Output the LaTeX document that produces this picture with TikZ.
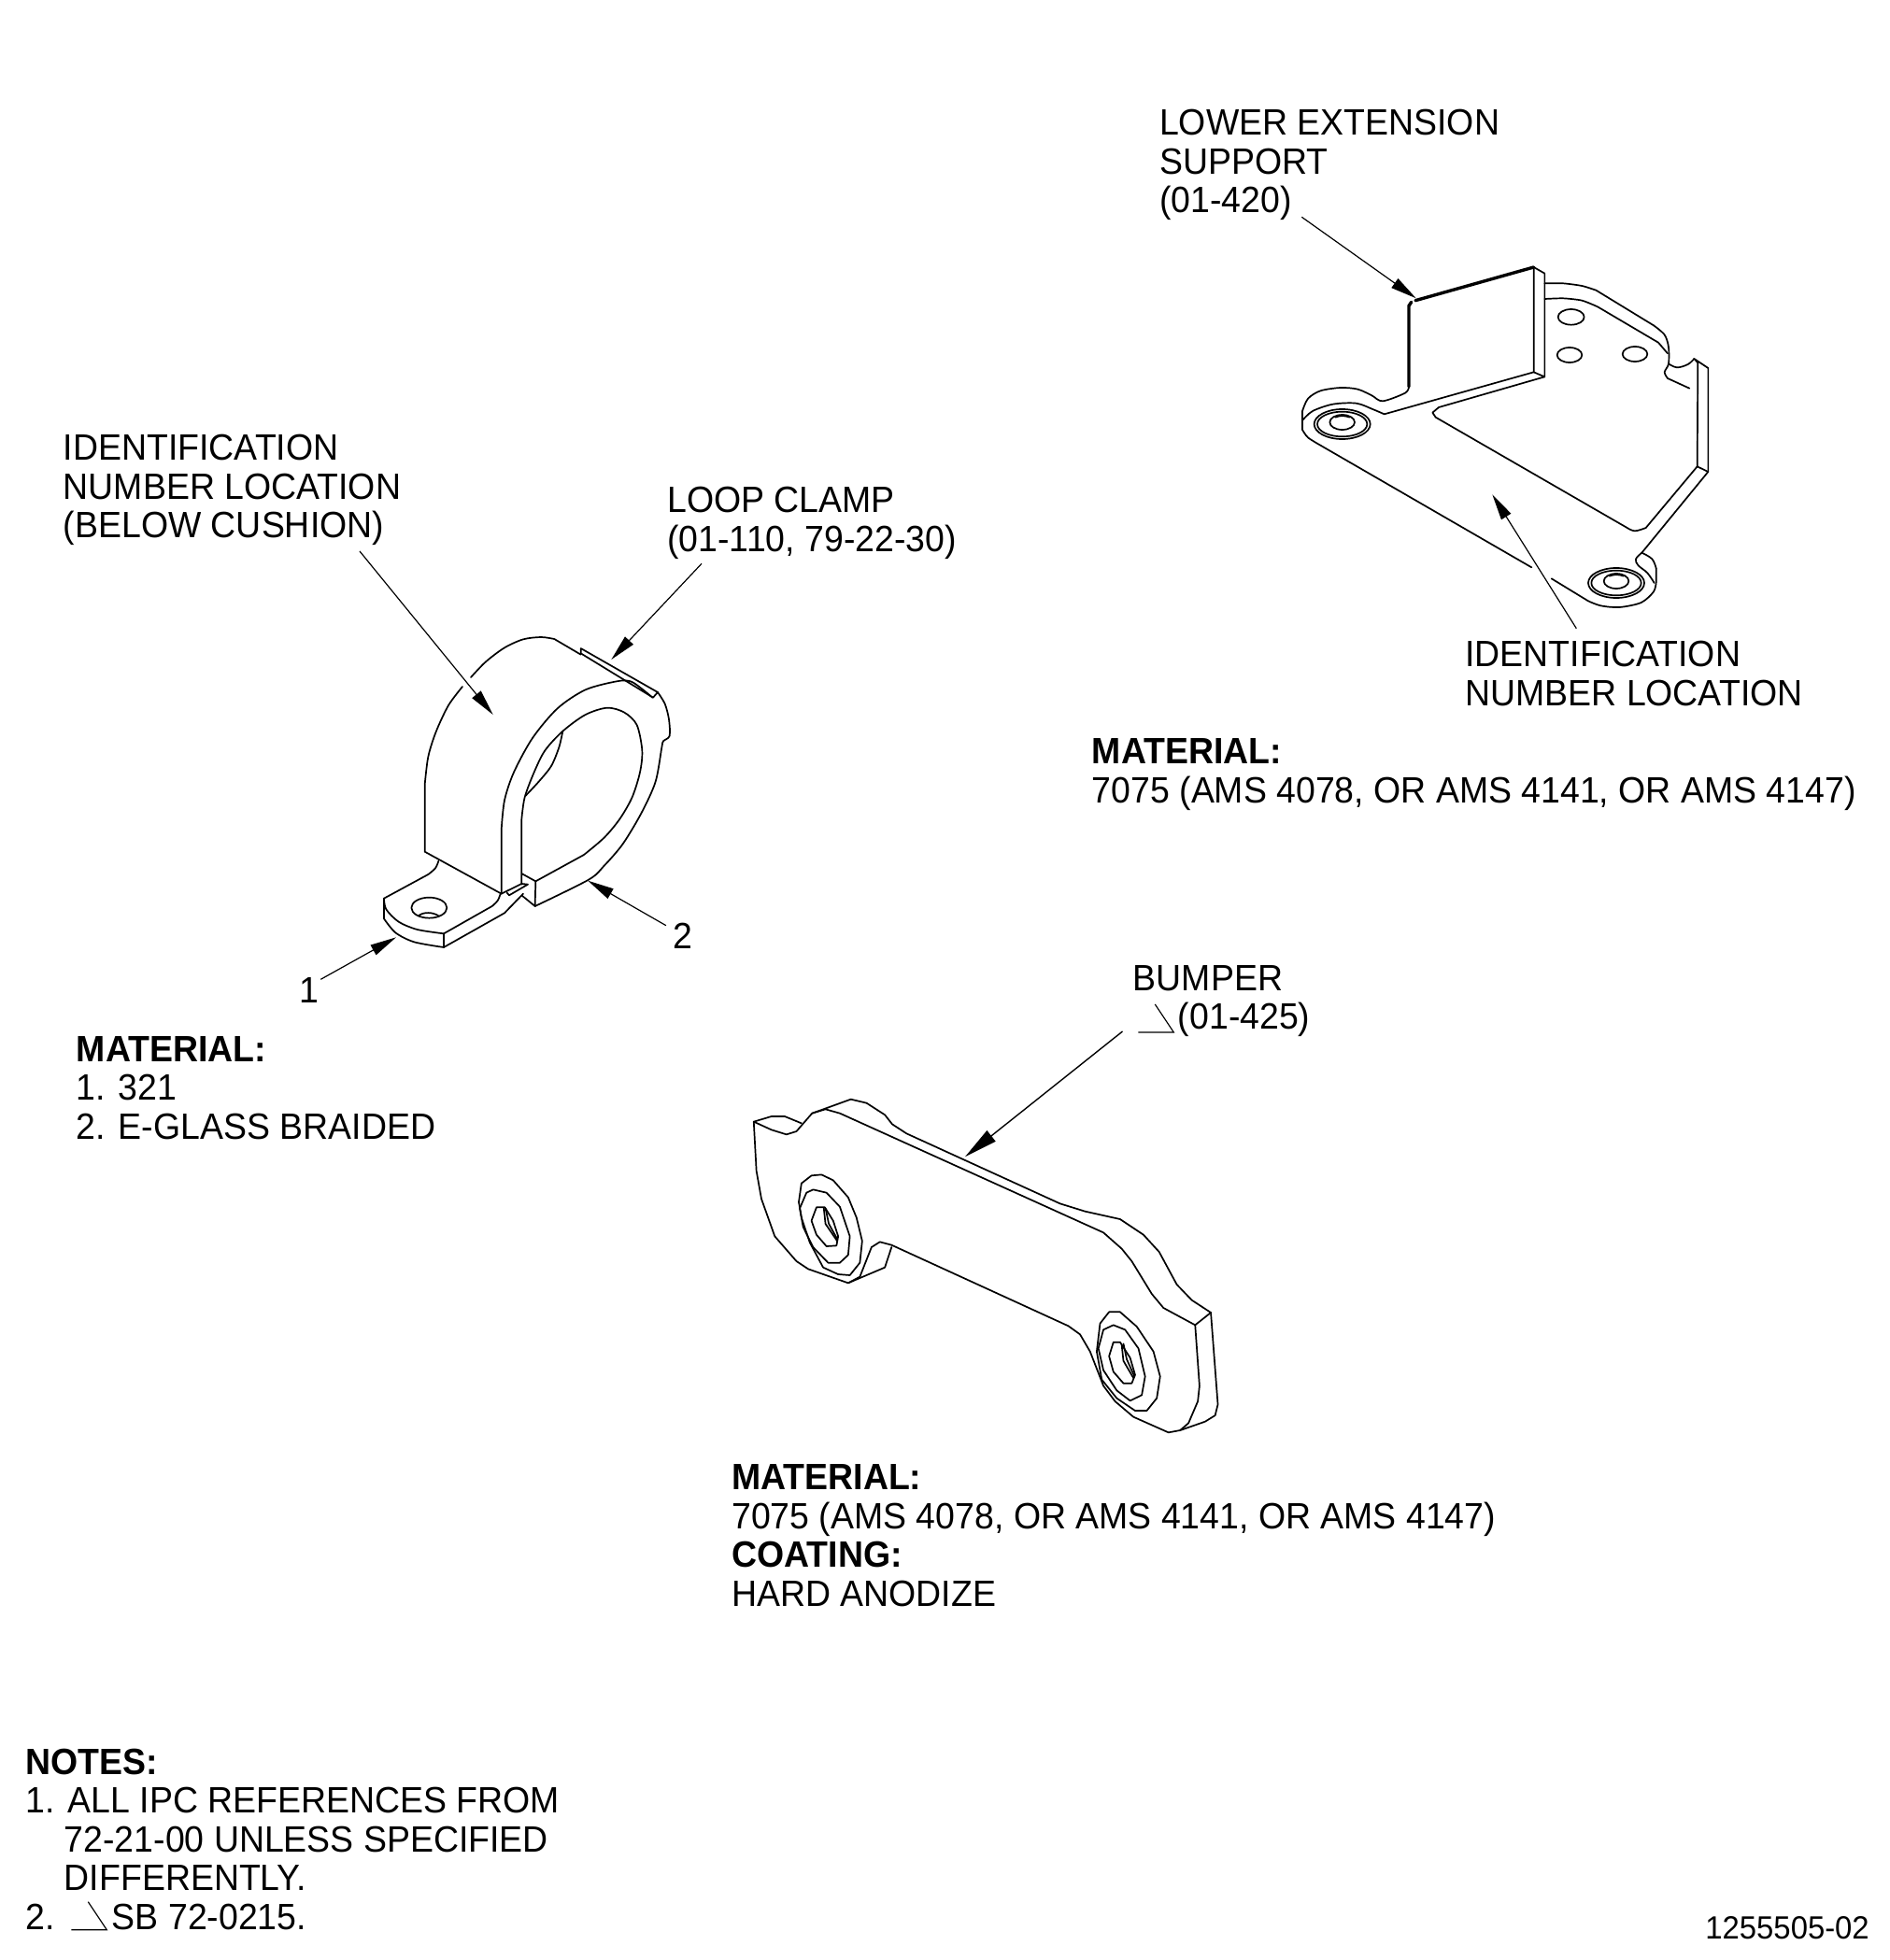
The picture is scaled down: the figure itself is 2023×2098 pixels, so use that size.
\documentclass[tikz,border=0pt]{standalone}
\usepackage{fontspec}
\setmainfont[FakeStretch=0.955]{Liberation Sans}
\usetikzlibrary{arrows.meta}
\tikzset{
	part/.style={line width=0.85pt, line join=round, line cap=round},
	heavy/.style={line width=1.7pt, line join=round, line cap=round},
	leader/.style={line width=0.6pt, -{Triangle[length=14pt,width=6pt]}},
	bigleader/.style={line width=0.7pt, -{Triangle[length=18pt,width=7.3pt]}},
	lbl/.style={anchor=base west, inner sep=0pt, align=left, font=\fontsize{19.6}{20.75}\selectfont},
	sbmark/.pic={\draw[line width=0.6pt] (0,0) -- (38,0) -- (18,-30);},
}
\begin{document}
\begin{tikzpicture}[x=0.5pt,y=-0.5pt]
\useasboundingbox (0,0) rectangle (2023,2098);

% lower extension support
\begin{scope}[shift={(1380,270)},scale=1/3]
	\draw[heavy] (405,155) -- (785,48);
	\draw[heavy] (392,160) -- (384,172) -- (384,432);
	\draw[part] plot[smooth,tension=.5] coordinates {(384,432) (372,452) (300,478) (265,460) (220,440) (165,435) (100,445) (60,470) (42,510)} -- (42,570);
	\draw[part] (785,48) -- (785,385) -- (305,520);
	\draw[part] (785,48) -- (820,68) -- (820,400) -- (785,385);
	\draw[part] plot[smooth,tension=.5] coordinates {(305,520) (270,505) (215,485) (140,488) (75,510) (42,540)};
	\draw[part] plot[smooth,tension=.5] coordinates {(42,570) (60,595) (100,620)} -- (778,1012);
	\draw[part] (842,1048) -- plot[smooth,tension=.5] coordinates {(960,1120) (1000,1135) (1060,1140) (1130,1125) (1170,1090) (1178,1060)} -- (1178,1015);
	\draw[part] plot[smooth,tension=.6] coordinates {(1178,1015) (1165,985) (1132,965)};
	\draw[part] plot[smooth,tension=.6] coordinates {(1132,965) (1113,985) (1120,1005) (1150,1030) (1172,1062)};
	\draw[part] (1132,965) -- (1345,705) -- (1310,688);
	\draw[part] (820,400) -- (480,498) -- (460,515) -- (470,530) -- (1085,885);
	\draw[part] plot[smooth,tension=.6] coordinates {(1085,885) (1110,895) (1145,885)} -- (1310,688) -- (1312,355) -- (1300,342) -- (1345,372) -- (1345,705);
	\draw[part] plot[smooth,tension=.6] coordinates {(1300,342) (1280,360) (1245,370) (1218,358)};
	\draw[part] plot[smooth,tension=.4] coordinates {(820,100) (880,100) (940,108) (985,122)} -- (1170,235);
	\draw[part] plot[smooth,tension=.5] coordinates {(1170,235) (1205,265) (1218,305) (1218,358) (1205,385) (1215,405)} -- (1285,437);
	\draw[part] plot[smooth,tension=.4] coordinates {(820,150) (880,148) (940,155) (990,175)} -- (1185,290) -- (1215,325);
	\foreach \hx/\hy/\hrx/\hry in {905/208/42/25,900/330/40/24,1110/327/40/24}{
		\draw[part] (\hx,\hy) ellipse [x radius=\hrx, y radius=\hry];
	}
	% the two bosses
	\foreach \bx/\by in {170/552,1050/1062}{
		\draw[part] (\bx,\by) ellipse (90 and 48);
		\draw[part] (\bx,\by) ellipse (80 and 40);
		\draw[part] (\bx,\by-6) ellipse (40 and 24);
		\draw[part] (\bx-22,\by-22) .. controls (\bx-8,\by-28) and (\bx+8,\by-28) .. (\bx+24,\by-22);
	}
\end{scope}

% loop clamp
\begin{scope}[shift={(380,640)},scale=1/3]
	\draw[part] plot[smooth,tension=.5] coordinates {(372,255) (420,205) (480,160) (540,133) (598,126) (640,132)} -- (725,182);
	\draw[part] plot[smooth,tension=.5] coordinates {(345,285) (300,345) (260,430) (235,510) (224,600)} -- (224,815) -- (470,950);
	\draw[part] (725,162) -- (972,303) -- (957,320) -- (725,178) -- cycle;
	\draw[part] (470,950) -- (470,745) -- plot[smooth,tension=.5] coordinates {(470,745) (480,650) (510,560) (570,450) (650,355) (740,295) (840,268) (885,268) (925,295) (955,320)};
	\draw[part] (535,920) -- plot[smooth,tension=.5] coordinates {(535,710) (545,640) (575,560) (610,490) (667,428) (740,375) (810,353) (865,368) (905,408) (922,490) (915,560) (890,640) (850,710) (800,770) (735,825)} -- (580,910) -- (535,885);
	\draw[part] plot[smooth,tension=.5] coordinates {(667,428) (655,480) (630,540) (590,590) (548,635)};
	\draw[part] (580,910) -- (578,990) -- (535,955);
	\draw[part] plot[smooth,tension=.5] coordinates {(578,990) (750,905) (800,860) (860,790) (920,690) (965,590) (985,480) (990,460) (1010,443) (1008,390) (995,340) (972,303)};
	% foot
	\draw[part] plot[smooth,tension=.6] coordinates {(268,845) (258,868) (235,888)} -- (93,965);
	\draw[part] plot[smooth,tension=.5] coordinates {(93,965) (100,1000) (140,1040) (200,1065) (285,1078)} -- (440,990);
	\draw[part] plot[smooth,tension=.6] coordinates {(440,990) (458,972) (467,950)};
	\draw[part] (93,965) -- plot[smooth,tension=.5] coordinates {(93,1030) (130,1075) (190,1105) (285,1122)} -- (480,1012) -- (540,950);
	\draw[part] (285,1078) -- (285,1122);
	\draw[part] (238,995) ellipse (57 and 33);
	\draw[part] (205,1020) .. controls (220,1008) and (250,1008) .. (270,1022);
	\draw[part] (470,950) -- (535,918) -- (555,920) -- (495,955) -- (488,947);
\end{scope}

% bumper
\begin{scope}[shift={(790,1160)},xscale=1/2.8,yscale=1/3]
	\draw[part] (47,122) -- (100,105) -- (140,105) -- (190,127);
	\draw[part] (47,122) -- (100,148) -- (145,163) -- (175,153) -- (200,122) -- (222,95) -- (262,82) -- (305,95) -- (1095,478) -- (1150,530) -- (1180,570) -- (1240,675) -- (1275,720) -- (1370,775) -- (1417,735);
	\draw[part] (222,95) -- (338,50) -- (385,62) -- (440,100) -- (462,130) -- (505,160) -- (965,385) -- (1040,410) -- (1145,435) -- (1215,485) -- (1262,540) -- (1315,645) -- (1360,695) -- (1417,735);
	\draw[part] (1370,775) -- (1383,970) -- (1378,1020) -- (1350,1090) -- (1325,1113);
	\draw[part] (1417,735) -- (1438,1030) -- (1430,1065) -- (1400,1085) -- (1325,1113) -- (1290,1120) -- (1185,1070) -- (1130,1020) -- (1095,970) -- (1055,860) -- (1025,805) -- (990,778) -- (460,518);
	\draw[part] (47,122) -- (55,280) -- (70,370) -- (110,490) -- (175,570) -- (210,595) -- (330,640) -- (440,590) -- (460,525);
	\draw[part] (330,640) -- (365,620) -- (400,525) -- (425,508) -- (460,518);
	% left boss
	\draw[part] (220,295) -- (250,292) -- (285,310) -- (330,365) -- (355,430) -- (372,505) -- (365,575) -- (335,615) -- (300,612) -- (255,590) -- (215,510) -- (190,430) -- (182,380) -- (190,320) -- cycle;
	\draw[part] (225,340) -- (265,350) -- (305,395) -- (335,490) -- (330,550) -- (305,575) -- (270,575) -- (225,525) -- (195,460) -- (185,400) -- (205,350) -- cycle;
	\draw[part] (235,397) -- (260,397) -- (285,440) -- (300,490) -- (295,520) -- (265,522) -- (235,485) -- (220,440) -- cycle;
	\draw[part] (257,400) -- (262,450) -- (297,505);
	\draw[part] (262,400) -- (272,450) -- (298,500);
	% right boss
	\draw[part] (1112,733) -- (1145,733) -- (1195,780) -- (1245,860) -- (1265,940) -- (1255,1010) -- (1225,1050) -- (1190,1050) -- (1135,1010) -- (1090,950) -- (1075,860) -- (1085,770) -- cycle;
	\draw[part] (1125,775) -- (1160,790) -- (1200,850) -- (1220,940) -- (1210,1000) -- (1175,1018) -- (1135,985) -- (1095,920) -- (1080,850) -- (1095,790) -- cycle;
	\draw[part] (1125,830) -- (1145,830) -- (1175,880) -- (1190,935) -- (1180,962) -- (1155,962) -- (1125,925) -- (1112,875) -- cycle;
	\draw[part] (1150,840) -- (1155,890) -- (1185,945);
	\draw[part] (1155,835) -- (1165,885) -- (1188,940);
\end{scope}

\node[lbl] (lblsupport) at (1240.7,227.7) {LOWER EXTENSION\\SUPPORT\\(01-420)};
\node[lbl] (lblidbracket) at (1568,755) {IDENTIFICATION\\NUMBER LOCATION};
\node[lbl] (matbracket) at (1168.5,859) {\textbf{MATERIAL:}\\7075 (AMS 4078, OR AMS 4141, OR AMS 4147)};
\node[lbl] (lblcushion) at (67.5,575.7) {IDENTIFICATION\\NUMBER LOCATION\\(BELOW CUSHION)};
\node[lbl] (lblclamp) at (714,590) {LOOP CLAMP\\(01-110, 79-22-30)};
\node[lbl] (lblone) at (320,1073.3) {1};
\node[lbl] (lbltwo) at (720,1015) {2};
\node[lbl] (matclamp) at (81.5,1219.3) {\textbf{MATERIAL:}\\1. 321\\2. E-GLASS BRAIDED};
\node[lbl] (lblbumper) at (1212.5,1101.7) {BUMPER\\\hspace*{24pt}(01-425)};
\node[lbl] (matbumper) at (782.9,1719.3) {\textbf{MATERIAL:}\\7075 (AMS 4078, OR AMS 4141, OR AMS 4147)\\\textbf{COATING:}\\HARD ANODIZE};
\node[lbl] (notes) at (27.3,2065) {\textbf{NOTES:}\\1. ALL IPC REFERENCES FROM\\\hspace*{20.6pt}72-21-00 UNLESS SPECIFIED\\\hspace*{20.6pt}DIFFERENTLY.\\2.\hspace*{30.5pt}SB 72-0215.};
\node[lbl, font=\fontsize{17.2}{18}\selectfont] (drawno) at (1825,2075.7) {1255505-02};

\pic at (1218.3,1105) {sbmark};
\pic at (76.3,2065.7) {sbmark};

\coordinate (supporttip) at (1515.7,319.3);
\coordinate (idbrackettip) at (1597.3,529.3);
\coordinate (cushiontip) at (527.7,765);
\coordinate (clamptip) at (654.3,706);
\coordinate (onetip) at (424,1003.3);
\coordinate (twotip) at (629.3,942.7);
\coordinate (bumpertip) at (1032.9,1238.3);

\draw[leader] ([shift={(152.6,4.6)}]lblsupport.base west) -- (supporttip);
\draw[leader] ([shift={(119.3,-82.3)}]lblidbracket.base west) -- (idbrackettip);
\draw[leader] ([shift={(317.5,14.3)}]lblcushion.base west) -- (cushiontip);
\draw[leader] ([shift={(37,13.3)}]lblclamp.base west) -- (clamptip);
\draw[leader] ([shift={(23.3,-25)}]lblone.base west) -- (onetip);
\draw[leader] ([shift={(-7.1,-24.3)}]lbltwo.base west) -- (twotip);
\draw[bigleader] ([shift={(-11,2.3)}]lblbumper.base west) -- (bumpertip);
\end{tikzpicture}
\end{document}
